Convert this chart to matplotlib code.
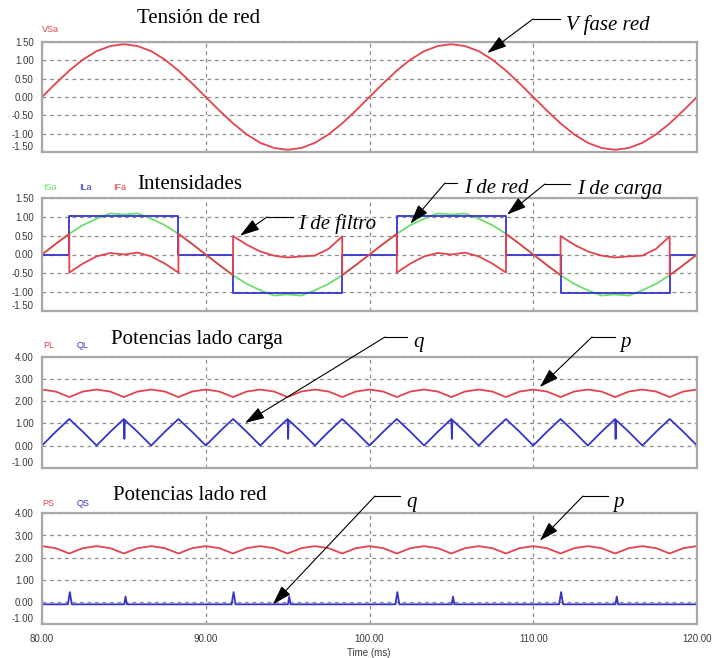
import numpy as np
import matplotlib
matplotlib.use("Agg")
import matplotlib.pyplot as plt
from matplotlib.lines import Line2D

W, H = 712, 658

# ---------------------------------------------------------------- data
# sampling grid: 15 electrical degrees of a 50 Hz wave (0.833 ms)
t_grid = np.linspace(80, 120, 49)

# phase voltage of the grid (pu)
v_sa = [0.00, 0.37, 0.72, 1.02, 1.25, 1.39, 1.44, 1.39, 1.25, 1.02, 0.72, 0.37,
        0.00, -0.37, -0.72, -1.02, -1.25, -1.39, -1.44, -1.39, -1.25, -1.02, -0.72, -0.37,
        0.00, 0.37, 0.72, 1.02, 1.25, 1.39, 1.44, 1.39, 1.25, 1.02, 0.72, 0.37,
        0.00, -0.37, -0.72, -1.02, -1.25, -1.39, -1.44, -1.39, -1.25, -1.02, -0.72, -0.37,
        0.00]

# grid-side current
i_sa = [0.00, 0.28, 0.55, 0.78, 0.95, 1.09, 1.06, 1.09, 0.95, 0.78, 0.55, 0.28,
        0.00, -0.28, -0.55, -0.78, -0.95, -1.09, -1.06, -1.09, -0.95, -0.78, -0.55, -0.28,
        0.00, 0.28, 0.55, 0.78, 0.95, 1.09, 1.06, 1.09, 0.95, 0.78, 0.55, 0.28,
        0.00, -0.28, -0.55, -0.78, -0.95, -1.09, -1.06, -1.09, -0.95, -0.78, -0.55, -0.28,
        0.00]

# load current (120 degree square wave)
i_la_t = [80.0, 81.667, 81.667, 88.333, 88.333, 91.667, 91.667, 98.333, 98.333,
          101.667, 101.667, 108.333, 108.333, 111.667, 111.667, 118.333, 118.333, 120.0]
i_la = [0.0, 0.0, 1.02, 1.02, 0.0, 0.0, -1.02, -1.02, 0.0,
        0.0, 1.02, 1.02, 0.0, 0.0, -1.02, -1.02, 0.0, 0.0]

# active filter current
i_fa_t = [80.0, 80.833, 81.667, 81.667, 82.5, 83.333, 84.167, 85.0, 85.833, 86.667,
          87.5, 88.333, 88.333, 89.167, 90.0, 90.833, 91.667, 91.667, 92.5, 93.333,
          94.167, 95.0, 95.833, 96.667, 97.5, 98.333, 98.333, 99.167,
          100.0, 100.833, 101.667, 101.667, 102.5, 103.333, 104.167, 105.0, 105.833, 106.667,
          107.5, 108.333, 108.333, 109.167, 110.0, 110.833, 111.667, 111.667, 112.5, 113.333,
          114.167, 115.0, 115.833, 116.667, 117.5, 118.333, 118.333, 119.167, 120.0]
i_fa = [0.00, 0.28, 0.55, -0.48, -0.24, -0.05, 0.04, 0.00, 0.05, -0.05,
        -0.24, -0.48, 0.55, 0.28, 0.00, -0.28, -0.55, 0.49, 0.26, 0.08,
        -0.03, -0.08, -0.05, -0.03, 0.15, 0.48, -0.55, -0.28,
        0.00, 0.28, 0.55, -0.48, -0.24, -0.05, 0.04, 0.00, 0.05, -0.05,
        -0.24, -0.48, 0.55, 0.28, 0.00, -0.28, -0.55, 0.49, 0.26, 0.08,
        -0.03, -0.08, -0.05, -0.03, 0.15, 0.48, -0.55, -0.28, 0.00]

# load-side instantaneous powers
p_l = [2.53, 2.44, 2.19, 2.44, 2.53, 2.44, 2.19, 2.44, 2.53, 2.44, 2.19, 2.44,
       2.53, 2.44, 2.19, 2.44, 2.53, 2.44, 2.19, 2.44, 2.53, 2.44, 2.19, 2.44,
       2.53, 2.44, 2.19, 2.44, 2.53, 2.44, 2.19, 2.44, 2.53, 2.44, 2.19, 2.44,
       2.53, 2.44, 2.19, 2.44, 2.53, 2.44, 2.19, 2.44, 2.53, 2.44, 2.19, 2.44,
       2.53]

q_l_t = [80.0, 80.833, 81.667, 82.5, 83.333, 84.167, 85.0, 85.03, 85.06, 85.833,
         86.667, 87.5, 88.333, 89.167, 90.0, 90.833, 91.667, 92.5, 93.333, 94.167,
         95.0, 95.03, 95.06, 95.833, 96.667, 97.5, 98.333, 99.167,
         100.0, 100.833, 101.667, 102.5, 103.333, 104.167, 105.0, 105.03, 105.06, 105.833,
         106.667, 107.5, 108.333, 109.167, 110.0, 110.833, 111.667, 112.5, 113.333, 114.167,
         115.0, 115.03, 115.06, 115.833, 116.667, 117.5, 118.333, 119.167, 120.0]
q_l = [0.00, 0.62, 1.20, 0.62, 0.00, 0.62, 1.20, 0.30, 1.15, 0.62,
       0.00, 0.62, 1.20, 0.62, 0.00, 0.62, 1.20, 0.62, 0.00, 0.62,
       1.20, 0.30, 1.15, 0.62, 0.00, 0.62, 1.20, 0.62,
       0.00, 0.62, 1.20, 0.62, 0.00, 0.62, 1.20, 0.30, 1.15, 0.62,
       0.00, 0.62, 1.20, 0.62, 0.00, 0.62, 1.20, 0.62, 0.00, 0.62,
       1.20, 0.30, 1.15, 0.62, 0.00, 0.62, 1.20, 0.62, 0.00]

# grid-side instantaneous powers
p_s = [2.52, 2.43, 2.19, 2.43, 2.52, 2.43, 2.19, 2.43, 2.52, 2.43, 2.19, 2.43,
       2.52, 2.43, 2.19, 2.43, 2.52, 2.43, 2.19, 2.43, 2.52, 2.43, 2.19, 2.43,
       2.52, 2.43, 2.19, 2.43, 2.52, 2.43, 2.19, 2.43, 2.52, 2.43, 2.19, 2.43,
       2.52, 2.43, 2.19, 2.43, 2.52, 2.43, 2.19, 2.43, 2.52, 2.43, 2.19, 2.43,
       2.52]

q_s_t = [80.0, 81.58, 81.7, 81.82, 85.02, 85.1, 85.18,
         91.58, 91.7, 91.82, 95.02, 95.1, 95.18,
         101.58, 101.7, 101.82, 105.02, 105.1, 105.18,
         111.58, 111.7, 111.82, 115.02, 115.1, 115.18, 120.0]
q_s = [-0.10, -0.10, 0.45, -0.10, -0.10, 0.25, -0.10,
       -0.10, 0.45, -0.10, -0.10, 0.25, -0.10,
       -0.10, 0.45, -0.10, -0.10, 0.25, -0.10,
       -0.10, 0.45, -0.10, -0.10, 0.25, -0.10, -0.10]

x_ticks = [80, 90, 100, 110, 120]
y_ticks_i = [-1.5, -1.0, -0.5, 0.0, 0.5, 1.0, 1.5]
y_ticks_p = [-1.0, 0.0, 1.0, 2.0, 3.0, 4.0]

# ---------------------------------------------------------------- style
RED = "#e4434e"
BLUE = "#3434cc"
GREEN = "#6ede6e"
GRID = "#8c8c8c"
FRAME = "#a8a8a8"
TXT = "#3a3a3a"
SANS = "Liberation Sans"
SERIF = "Liberation Serif"
LW = 1.3

fig = plt.figure(figsize=(W / 100, H / 100), dpi=100)
fig.patch.set_facecolor("white")


def fx(px):
    return px / W


def fy(py):
    return 1 - py / H


def make_axes(top, bottom, yticks, show_x=False):
    ax = fig.add_axes([fx(42), fy(bottom), (697 - 42) / W, (bottom - top) / H])
    ax.set_facecolor("none")
    ax.set_xlim(80, 120)
    ax.set_ylim(yticks[0], yticks[-1])
    ax.set_xticks(x_ticks)
    ax.set_yticks(yticks)
    ax.set_yticklabels([f"{v:.2f}" for v in yticks], fontfamily=SANS,
                       fontsize=7, color=TXT)
    ax.get_yticklabels()[0].set_verticalalignment("bottom")
    if show_x:
        ax.set_xticklabels([f"{v:.2f}" for v in x_ticks], fontfamily=SANS,
                           fontsize=7, color=TXT)
    else:
        ax.set_xticklabels([])
    ax.tick_params(axis="both", length=0)
    ax.tick_params(axis="y", pad=6)
    ax.tick_params(axis="x", pad=7)
    ax.grid(True, color=GRID, linestyle=(0, (3, 3)), linewidth=0.9)
    for s in ax.spines.values():
        s.set_color(FRAME)
        s.set_linewidth(1.6)
    return ax


def channel_label(px, py, text, color):
    fig.text(fx(px), fy(py), text, fontfamily=SANS, fontsize=6.5,
             color=color, ha="left", va="center")


def title(cx, baseline, text):
    fig.text(fx(cx), fy(baseline), text, fontfamily=SERIF, fontsize=15,
             ha="center", va="baseline", color="black")


def callout(ax, xy, corner, end, text, text_x, baseline):
    ax.annotate("", xy=xy, xycoords="data",
                xytext=(fx(corner[0]), fy(corner[1])), textcoords="figure fraction",
                arrowprops=dict(arrowstyle="-|>,head_length=0.8,head_width=0.25",
                                color="black", lw=0.8,
                                mutation_scale=15, shrinkA=0, shrinkB=0),
                annotation_clip=False, zorder=10)
    fig.add_artist(Line2D([fx(corner[0]), fx(end[0])], [fy(corner[1]), fy(end[1])],
                          color="black", lw=0.8))
    fig.text(fx(text_x), fy(baseline), text, fontfamily=SERIF, style="italic",
             fontsize=15, ha="left", va="baseline", color="black")


# ---------------------------------------------------------------- panel 1
ax1 = make_axes(42, 152, y_ticks_i)
ax1.plot(t_grid, v_sa, color=RED, lw=LW)
title(199, 23, "Tensión de red")
channel_label(42, 30, "VSa", RED)
callout(ax1, (107.2, 1.2), (533, 19), (560, 19), "V fase red", 566, 30)

# ---------------------------------------------------------------- panel 2
ax2 = make_axes(198, 311, y_ticks_i)
ax2.plot(t_grid, i_sa, color=GREEN, lw=LW)
ax2.plot(i_la_t, i_la, color=BLUE, lw=LW)
ax2.plot(i_fa_t, i_fa, color=RED, lw=LW)
title(190, 189, "Intensidades")
channel_label(43, 187, "ISa", GREEN)
channel_label(79, 187, "ILa", BLUE)
channel_label(113, 187, "IFa", RED)
callout(ax2, (92.1, 0.5), (267, 217), (293, 217), "I de filtro", 298, 229)
callout(ax2, (102.5, 0.82), (445, 183), (457, 183), "I de red", 464, 193)
callout(ax2, (108.4, 1.06), (545, 184), (570, 184), "I de carga", 577, 194)

# ---------------------------------------------------------------- panel 3
ax3 = make_axes(357, 467.7, y_ticks_p)
ax3.plot(t_grid, p_l, color=RED, lw=LW)
ax3.plot(q_l_t, q_l, color=BLUE, lw=LW)
title(197, 344, "Potencias lado carga")
channel_label(43, 345, "PL", RED)
channel_label(77, 345, "QL", BLUE)
callout(ax3, (92.4, 1.02), (385, 337), (407, 337), "q", 413, 347)
callout(ax3, (110.4, 2.64), (592, 337), (615, 337), "p", 620, 347)

# ---------------------------------------------------------------- panel 4
ax4 = make_axes(513.3, 624.3, y_ticks_p, show_x=True)
ax4.plot(t_grid, p_s, color=RED, lw=LW)
ax4.plot(q_s_t, q_s, color=BLUE, lw=LW)
title(190, 500, "Potencias lado red")
channel_label(42, 503, "PS", RED)
channel_label(77, 503, "QS", BLUE)
callout(ax4, (94.1, -0.1), (375, 496), (400, 496), "q", 406, 507)
callout(ax4, (110.4, 2.77), (583, 496), (608, 496), "p", 613, 507)
fig.text(fx(369), fy(653), "Time (ms)", fontfamily=SANS, fontsize=7,
         color=TXT, ha="center", va="center")

fig.savefig("out.png", dpi=100, facecolor="white")
